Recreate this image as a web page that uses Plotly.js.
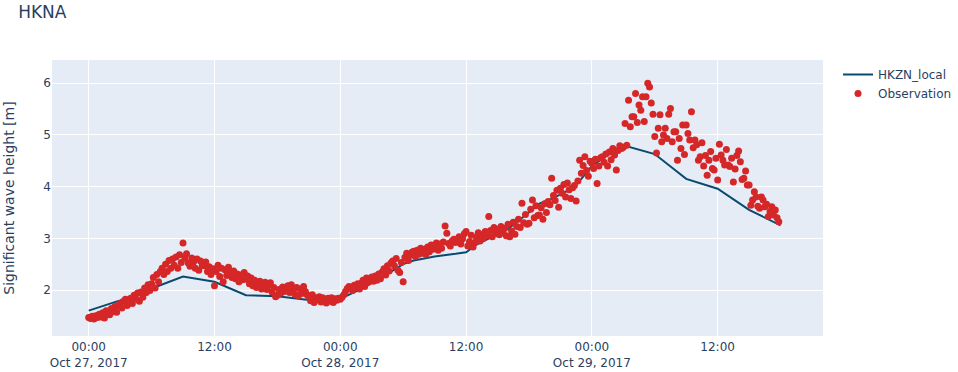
<!DOCTYPE html>
<html>
<head>
<meta charset="utf-8">
<script src="https://cdn.plot.ly/plotly-3.0.1.min.js"></script>
<style>html,body{margin:0;padding:0;background:#fff;}#chart{width:958px;height:372px;}</style>
</head>
<body>
<div id="chart"></div>
<script>
// Model (HKZN_local): hours since 2017-10-27 00:00 and Hs [m]
const modelHours = [0,3,6,9,12,15,18,21,23,24,26,28,30,31,33,35,36,37,39,40,42,43,44,46,47,48,50,51,54,57,60,63,66];
const modelHs    = [1.60,1.80,2.03,2.26,2.16,1.90,1.88,1.80,1.76,1.83,2.02,2.25,2.50,2.57,2.65,2.70,2.73,2.88,3.08,3.18,3.50,3.67,3.75,3.95,4.15,4.40,4.68,4.80,4.63,4.15,3.96,3.55,3.25];

// Observation: every 10 minutes starting 2017-10-27 00:00
const obsStart = "2017-10-27T00:00:00";
const obsStepMinutes = 10;
const obsHs = [
1.47,1.45,1.49,1.44,1.50,1.47,
1.53,1.48,1.56,1.46,1.60,1.54,
1.52,1.64,1.58,1.68,1.57,1.70,
1.74,1.65,1.78,1.82,1.70,1.79,
1.84,1.74,1.90,1.83,1.94,1.78,
1.96,1.86,2.04,1.95,2.10,1.99,
2.12,2.24,2.04,2.30,2.16,2.36,
2.42,2.30,2.50,2.36,2.57,2.42,
2.60,2.48,2.64,2.42,2.68,2.53,
2.91,2.62,2.70,2.52,2.46,2.62,
2.54,2.42,2.60,2.38,2.56,2.48,
2.47,2.54,2.36,2.45,2.30,2.41,
2.08,2.36,2.48,2.26,2.42,2.16,
2.39,2.28,2.44,2.33,2.24,2.37,
2.22,2.31,2.16,2.29,2.20,2.34,
2.21,2.27,2.12,2.23,2.08,2.19,
2.05,2.13,2.17,2.02,2.11,2.15,
2.01,2.09,2.14,1.96,2.05,1.87,
1.90,2.01,1.94,2.06,1.97,2.03,
2.08,1.95,2.10,2.01,1.92,2.05,
1.89,2.02,1.93,2.07,1.97,1.91,
1.86,1.79,1.91,1.76,1.85,1.81,
1.87,1.77,1.85,1.80,1.75,1.84,
1.78,1.85,1.76,1.83,1.80,1.84,
1.82,1.86,1.91,1.97,2.03,2.07,
2.05,1.99,2.09,2.06,2.12,2.02,
2.13,2.19,2.07,2.23,2.15,2.21,
2.25,2.17,2.27,2.19,2.31,2.22,
2.35,2.41,2.29,2.47,2.37,2.52,
2.56,2.47,2.61,2.38,2.34,2.53,
2.16,2.63,2.71,2.57,2.67,2.73,
2.75,2.65,2.77,2.69,2.81,2.71,
2.79,2.69,2.83,2.74,2.87,2.79,
2.85,2.91,2.77,2.89,2.81,2.93,
3.24,3.10,2.90,2.85,2.95,2.98,
2.92,2.97,3.03,2.89,2.99,3.09,
3.13,2.85,2.94,3.06,2.83,2.92,
3.02,3.11,2.95,3.07,3.00,3.13,
3.05,3.42,3.15,3.03,3.21,3.10,
3.17,3.07,3.23,3.11,3.19,3.05,
3.27,3.03,3.14,3.31,3.08,3.23,
3.37,3.21,3.68,3.30,3.46,3.27,
3.29,3.56,3.74,3.40,3.63,3.44,
3.45,3.59,3.37,3.67,3.50,3.71,
3.65,4.16,3.83,3.73,3.93,3.60,
3.97,3.87,4.04,3.80,4.07,3.94,
3.77,3.98,4.02,3.72,4.11,4.51,
4.26,4.41,4.58,4.31,4.20,4.49,
4.45,4.35,4.53,4.06,4.40,4.56,
4.58,4.47,4.63,4.40,4.67,4.52,
4.74,4.61,4.32,4.70,4.79,4.74,
4.76,5.22,4.80,5.67,5.16,5.35,
5.35,5.80,5.24,5.58,5.48,5.74,
5.26,5.74,6.00,5.93,5.62,5.40,
4.97,4.65,5.13,5.39,4.87,5.00,
5.13,4.93,5.40,5.51,4.87,5.06,
5.06,4.51,4.93,4.74,5.19,4.62,
5.19,5.03,4.90,5.45,4.75,4.90,
4.81,4.51,4.58,4.85,4.40,4.60,
4.22,4.51,4.68,4.35,4.32,4.55,
4.13,4.82,4.61,4.51,4.42,4.72,
4.42,4.39,4.55,4.09,4.34,4.60,
4.69,4.48,4.14,4.16,4.30,4.03,
4.03,3.64,3.74,3.90,3.80,3.62,
3.58,3.80,3.74,3.61,3.66,3.42,
3.52,3.61,3.45,3.55,3.40,3.32
];

const base = new Date(obsStart + "Z").getTime();
function fmt(ms){
  const d = new Date(ms);
  const p = n => String(n).padStart(2,"0");
  return d.getUTCFullYear()+"-"+p(d.getUTCMonth()+1)+"-"+p(d.getUTCDate())+" "+p(d.getUTCHours())+":"+p(d.getUTCMinutes())+":00";
}
const modelX = modelHours.map(h => fmt(base + h*3600000));
const obsX = obsHs.map((_, i) => fmt(base + i*obsStepMinutes*60000));

const traces = [
  {x: modelX, y: modelHs, mode: "lines", name: "HKZN_local",
   line: {color: "#0a4a6e", width: 2}},
  {x: obsX, y: obsHs, mode: "markers", name: "Observation",
   marker: {color: "#d62728", size: 7}}
];

const layout = {
  width: 958, height: 372,
  margin: {l: 52, r: 135, t: 60, b: 36},
  paper_bgcolor: "#ffffff",
  plot_bgcolor: "#E5ECF6",
  font: {family: '"DejaVu Sans", Verdana, sans-serif', size: 12, color: "#2a3f5f"},
  title: {text: "HKNA", x: 0.019, xanchor: "left", xref: "container", y: 0.968, yanchor: "middle", yref: "container",
          font: {size: 17, color: "#2a3f5f"}},
  xaxis: {type: "date", range: ["2017-10-26 20:30", "2017-10-29 22:03"],
          gridcolor: "#ffffff", linecolor: "#ffffff", zeroline: false, ticks: "",
          automargin: false},
  yaxis: {range: [1.11, 6.45], gridcolor: "#ffffff", zerolinecolor: "#ffffff", ticks: "",
          title: {text: "Significant wave height [m]", font: {size: 14}}, dtick: 1,
          automargin: false},
  legend: {xref: "container", yref: "container", x: 838/958, y: 1 - 60/372, xanchor: "left", yanchor: "top", font: {size: 12}},
  showlegend: true
};

Plotly.newPlot("chart", traces, layout, {displayModeBar: false, staticPlot: true});
</script>
</body>
</html>
